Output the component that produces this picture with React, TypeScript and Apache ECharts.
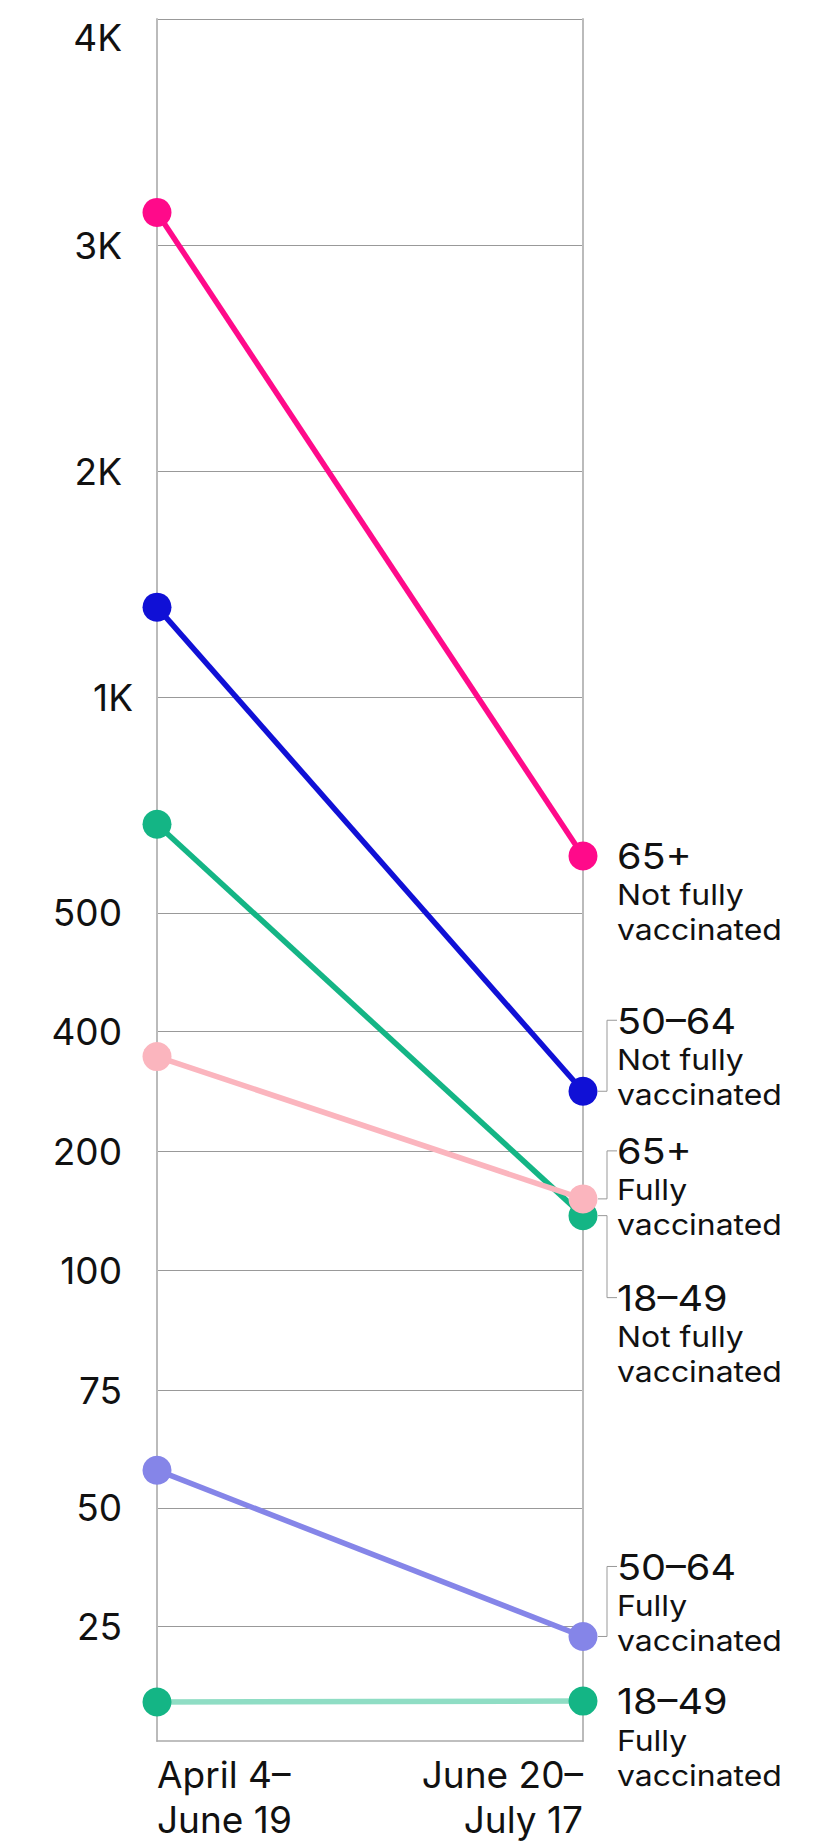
import React, { useEffect, useRef } from "react";
import * as echarts from "echarts";

// Periods (x categories)
const periods = ["April 4–\nJune 19", "June 20–\nJuly 17"];

// Y scale: tick values, their labels, and the scale stops (axis units) they map to
const tickValues = [0, 25, 50, 75, 100, 200, 400, 500, 1000, 2000, 3000, 4000];
const tickLabels = ["", "25", "50", "75", "100", "200", "400", "500", "1K", "2K", "3K", "4K"];
const scaleStops = [0, 115, 234, 352, 472, 592, 712, 831, 1047, 1274, 1501, 1728];

// Series values [April 4–June 19, June 20–July 17]
const vax1849 = [8.5, 8.7];
const vax5064 = [58, 22.8];
const notVax1849 = [706, 146];
const vax65 = [358, 160];
const notVax5064 = [1400, 300];
const notVax65 = [3145, 632];

const seriesNames = [
  "18–49 Fully vaccinated",
  "50–64 Fully vaccinated",
  "18–49 Not fully vaccinated",
  "65+ Fully vaccinated",
  "50–64 Not fully vaccinated",
  "65+ Not fully vaccinated",
];
const seriesAges = ["18–49", "50–64", "18–49", "65+", "50–64", "65+"];
const seriesStatus = ["Fully", "Fully", "Not fully", "Fully", "Not fully", "Not fully"];
const seriesValues = [vax1849, vax5064, notVax1849, vax65, notVax5064, notVax65];
const lineColors = ["#8fddc4", "#8585e8", "#14b585", "#fbb5be", "#1010d6", "#ff0a8a"];
const dotColors = ["#14b585", "#8585e8", "#14b585", "#fbb5be", "#1010d6", "#ff0a8a"];
// label first-line offset from the end point (px); 0 = no connector
const labelOffsets = [0, -70, 82, -48, -71, 0];

function toAxis(v: number): number {
  for (let i = 1; i < tickValues.length; i++) {
    if (v <= tickValues[i]) {
      const t = (v - tickValues[i - 1]) / (tickValues[i] - tickValues[i - 1]);
      return scaleStops[i - 1] + t * (scaleStops[i] - scaleStops[i - 1]);
    }
  }
  return scaleStops[scaleStops.length - 1];
}

const FONT = "Inter";

export default function App() {
  const ref = useRef<HTMLDivElement>(null);
  useEffect(() => {
    if (!ref.current) return;
    const chart = echarts.init(ref.current, undefined, { renderer: "svg" });
    const maxStop = scaleStops[scaleStops.length - 1];
    const yCommon = {
      type: "value" as const,
      min: 0,
      max: maxStop,
    };
    chart.setOption({
      animation: false,
      backgroundColor: "#ffffff",
      grid: { left: 157, right: 248, top: 19, bottom: 95, containLabel: false },
      xAxis: {
        type: "category",
        data: periods,
        boundaryGap: false,
        axisLine: { show: true, lineStyle: { color: "#aaaaaa", width: 1.5 } },
        axisTick: { show: false },
        axisLabel: {
          fontFamily: FONT,
          fontSize: 37,
          color: "#111111",
          lineHeight: 45,
          margin: 11,
          alignMinLabel: "left",
          alignMaxLabel: "right",
        },
        splitLine: { show: false },
      },
      yAxis: [
        {
          ...yCommon,
          position: "left",
          axisLine: { show: true, lineStyle: { color: "#bbbbbb", width: 2 } },
          axisTick: { show: false, customValues: scaleStops.slice(1) },
          axisLabel: {
            customValues: scaleStops.slice(1),
            fontFamily: FONT,
            fontSize: 37,
            color: "#111111",
            margin: 35,
            verticalAlignMaxLabel: "top",
            formatter: (v: number) => {
              const i = scaleStops.findIndex((s) => Math.abs(s - v) < 0.01);
              if (i < 0) return "";
              return tickLabels[i] === "1K" ? `{k|${tickLabels[i]}}` : tickLabels[i];
            },
            rich: {
              k: { fontFamily: FONT, fontSize: 37, color: "#111111", padding: [0, -11, 0, 0] },
            },
          },
          splitLine: { show: true, lineStyle: { color: "#999999", width: 1 } },
        },
        {
          ...yCommon,
          position: "right",
          axisLine: { show: true, onZero: false, lineStyle: { color: "#bbbbbb", width: 2 } },
          axisTick: { show: false },
          axisLabel: { show: false },
          splitLine: { show: false },
        },
      ],
      series: seriesValues.map((vals, i) => ({
        name: seriesNames[i],
        type: "line",
        data: vals.map((v) => toAxis(v)),
        symbol: "circle",
        symbolSize: 29,
        showSymbol: true,
        lineStyle: { color: lineColors[i], width: 5.5 },
        itemStyle: { color: dotColors[i] },
        emphasis: { disabled: true },
        z: 2,
      })),
    });

    const graphics: any[] = [];
    seriesValues.forEach((vals, i) => {
      const p = chart.convertToPixel({ gridIndex: 0 }, [1, toAxis(vals[1])]) as number[];
      const px = p[0];
      const py = p[1];
      const off = labelOffsets[i];
      const ly = py + off;
      if (off !== 0) {
        graphics.push({
          type: "polyline",
          shape: {
            points: [
              [px + 15, py],
              [px + 24, py],
              [px + 24, ly],
              [px + 34, ly],
            ],
          },
          style: { stroke: "#999999", lineWidth: 1, fill: null },
          silent: true,
          z: 1,
        });
      }
      graphics.push({
        type: "text",
        x: px + 34,
        y: ly - 21,
        scaleX: 1.1,
        silent: true,
        style: {
          text: `{a|${seriesAges[i]}}\n{b|${seriesStatus[i]}}\n{b|vaccinated}`,
          fill: "#111111",
          align: "left",
          verticalAlign: "top",
          rich: {
            a: { fontFamily: FONT, fontSize: 36, lineHeight: 42, fill: "#111111" },
            b: { fontFamily: FONT, fontSize: 29, lineHeight: 35, fill: "#111111" },
          },
        },
        z: 10,
      });
    });
    chart.setOption({ graphic: graphics });

    return () => chart.dispose();
  }, []);
  return (
    <div
      ref={ref}
      style={{ position: "absolute", left: 0, top: 0, width: 831, height: 1842, background: "#fff" }}
    />
  );
}
